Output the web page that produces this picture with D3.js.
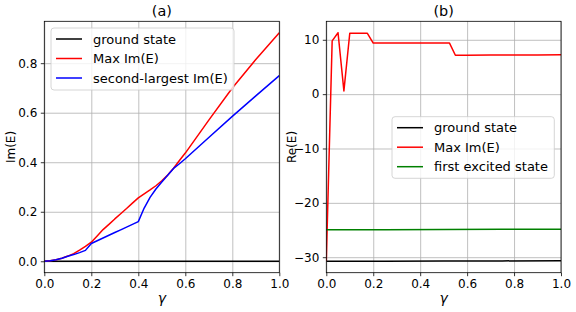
<!DOCTYPE html>
<html>
<head>
<meta charset="utf-8">
<script src="https://cdn.jsdelivr.net/npm/d3@7"></script>
<style>
  body { margin: 0; background: white; }
  svg { display: block; font-family: "DejaVu Sans", sans-serif; }
</style>
</head>
<body>
<svg id="fig" width="576" height="312"></svg>
<script>
// panel (a): imaginary parts
const gammaA = [0, 0.025, 0.05, 0.075, 0.1, 0.125, 0.15, 0.175, 0.2, 0.225, 0.25, 0.275, 0.3, 0.325,
  0.35, 0.375, 0.4, 0.425, 0.45, 0.475, 0.5, 0.525, 0.55, 0.575, 0.6, 0.7, 0.8, 0.9, 1.0];
const maxImA = [0, 0.002, 0.006, 0.012, 0.021, 0.031, 0.045, 0.06, 0.077, 0.102, 0.128, 0.149, 0.171, 0.192,
  0.213, 0.235, 0.256, 0.272, 0.288, 0.305, 0.325, 0.348, 0.376, 0.407, 0.437, 0.57, 0.70, 0.815, 0.923];
const secondImA = [0, 0.002, 0.006, 0.012, 0.02, 0.027, 0.035, 0.044, 0.072, 0.083, 0.094, 0.105, 0.116, 0.127,
  0.138, 0.149, 0.16, 0.215, 0.258, 0.292, 0.32, 0.347, 0.375, 0.394, 0.414, 0.50, 0.585, 0.668, 0.75];
const gammaGround = [0, 0.5, 1.0];
const groundImA = [0, 0, 0];

// panel (b): real parts
const gammaB = [0, 0.025, 0.05, 0.075, 0.1, 0.125, 0.15, 0.175, 0.2, 0.25, 0.3, 0.35, 0.4, 0.45,
  0.5, 0.525, 0.55, 0.6, 0.7, 0.8, 0.9, 1.0];
const maxImReB = [-30.7, 9.8, 11.3, 0.6, 11.2, 11.2, 11.2, 11.2, 9.4, 9.4, 9.4, 9.4, 9.4, 9.4,
  9.4, 9.4, 7.15, 7.16, 7.18, 7.2, 7.22, 7.25];
const gammaFlat = [0, 0.25, 0.5, 0.75, 1.0];
const groundReB = [-30.75, -30.73, -30.71, -30.68, -30.65];
const excitedReB = [-24.95, -24.93, -24.91, -24.88, -24.86];

const xTicks = [0, 0.2, 0.4, 0.6, 0.8, 1.0];
const yTicksA = [0, 0.2, 0.4, 0.6, 0.8];
const yTicksB = [-30, -20, -10, 0, 10];

const svg = d3.select("#fig");
const plotTop = 21.3, plotBottom = 272.7;

function pad(lo, hi) { const m = (hi - lo) * 0.05; return [lo - m, hi + m]; }

function panel(opts) {
  const g = svg.append("g");
  const x = d3.scaleLinear().domain([0, 1]).range([opts.left, opts.right]);
  const y = d3.scaleLinear().domain(opts.ydom).range([plotBottom, plotTop]);
  const w = opts.right - opts.left, h = plotBottom - plotTop;

  // grid
  g.append("g").attr("transform", `translate(0,${plotBottom})`)
    .call(d3.axisBottom(x).tickValues(xTicks).tickSize(-h).tickFormat(""))
    .call(a => a.select(".domain").remove())
    .call(a => a.selectAll("line").attr("stroke", "#b0b0b0").attr("stroke-width", 0.8));
  g.append("g").attr("transform", `translate(${opts.left},0)`)
    .call(d3.axisLeft(y).tickValues(opts.yticks).tickSize(-w).tickFormat(""))
    .call(a => a.select(".domain").remove())
    .call(a => a.selectAll("line").attr("stroke", "#b0b0b0").attr("stroke-width", 0.8));

  const clipId = "clip" + opts.name;
  svg.append("clipPath").attr("id", clipId).append("rect")
    .attr("x", opts.left).attr("y", plotTop).attr("width", w).attr("height", h);

  const line = d3.line().x(d => x(d[0])).y(d => y(d[1]));
  const lines = g.append("g").attr("clip-path", `url(#${clipId})`);
  opts.series.forEach(s => {
    lines.append("path")
      .datum(s.xs.map((v, i) => [v, s.ys[i]]))
      .attr("d", line)
      .attr("fill", "none")
      .attr("stroke", s.color)
      .attr("stroke-width", 1.5)
      .attr("stroke-linejoin", "round");
  });

  // axes
  const xa = g.append("g").attr("transform", `translate(0,${plotBottom})`)
    .call(d3.axisBottom(x).tickValues(xTicks).tickSize(3.5).tickPadding(3.5).tickFormat(d3.format(".1f")));
  const ya = g.append("g").attr("transform", `translate(${opts.left},0)`)
    .call(d3.axisLeft(y).tickValues(opts.yticks).tickSize(3.5).tickPadding(3.5).tickFormat(opts.fmt));
  [xa, ya].forEach(a => {
    a.selectAll("text").attr("font-size", 12).attr("font-family", "DejaVu Sans").attr("fill", "black");
    a.selectAll("line").attr("stroke", "black").attr("stroke-width", 0.8);
    a.select(".domain").remove();
  });

  g.append("rect").attr("x", opts.left).attr("y", plotTop).attr("width", w).attr("height", h)
    .attr("fill", "none").attr("stroke", "black").attr("stroke-width", 0.8);

  // titles and labels
  g.append("text").attr("x", (opts.left + opts.right) / 2).attr("y", 15.5)
    .attr("text-anchor", "middle").attr("font-size", 14.4).text(opts.title);
  g.append("text").attr("x", (opts.left + opts.right) / 2).attr("y", 303)
    .attr("text-anchor", "middle").attr("font-size", 14).attr("font-style", "italic").text("γ");
  g.append("text")
    .attr("transform", `translate(${opts.ylabelX},${(plotTop + plotBottom) / 2}) rotate(-90)`)
    .attr("text-anchor", "middle").attr("font-size", 12).text(opts.ylabel);

  // legend
  const L = opts.legend;
  const lg = g.append("g");
  lg.append("rect").attr("x", L.x).attr("y", L.y).attr("width", L.w).attr("height", L.h)
    .attr("rx", 3).attr("fill", "white").attr("fill-opacity", 0.8)
    .attr("stroke", "#cccccc").attr("stroke-width", 0.8);
  opts.series.forEach((s, i) => {
    const ry = L.y + 11 + i * 19.5;
    lg.append("line").attr("x1", L.x + 5).attr("x2", L.x + 31).attr("y1", ry).attr("y2", ry)
      .attr("stroke", s.color).attr("stroke-width", 1.5);
    lg.append("text").attr("x", L.x + 42).attr("y", ry + 4.7).attr("font-size", 13).text(s.label);
  });
}

panel({
  name: "a", left: 44.3, right: 279.3, title: "(a)", ylabel: "Im(E)", ylabelX: 15,
  ydom: pad(0, d3.max(maxImA)), yticks: yTicksA, fmt: d3.format(".1f"),
  legend: { x: 51, y: 28, w: 183, h: 62 },
  series: [
    { xs: gammaGround, ys: groundImA, color: "black", label: "ground state" },
    { xs: gammaA, ys: maxImA, color: "red", label: "Max Im(E)" },
    { xs: gammaA, ys: secondImA, color: "blue", label: "second-largest Im(E)" }
  ]
});

panel({
  name: "b", left: 326.3, right: 561, title: "(b)", ylabel: "Re(E)", ylabelX: 296,
  ydom: pad(d3.min(groundReB), d3.max(maxImReB)), yticks: yTicksB, fmt: d3.format("d"),
  legend: { x: 392, y: 116.7, w: 162.3, h: 61.6 },
  series: [
    { xs: gammaFlat, ys: groundReB, color: "black", label: "ground state" },
    { xs: gammaB, ys: maxImReB, color: "red", label: "Max Im(E)" },
    { xs: gammaFlat, ys: excitedReB, color: "green", label: "first excited state" }
  ]
});
</script>
</body>
</html>
